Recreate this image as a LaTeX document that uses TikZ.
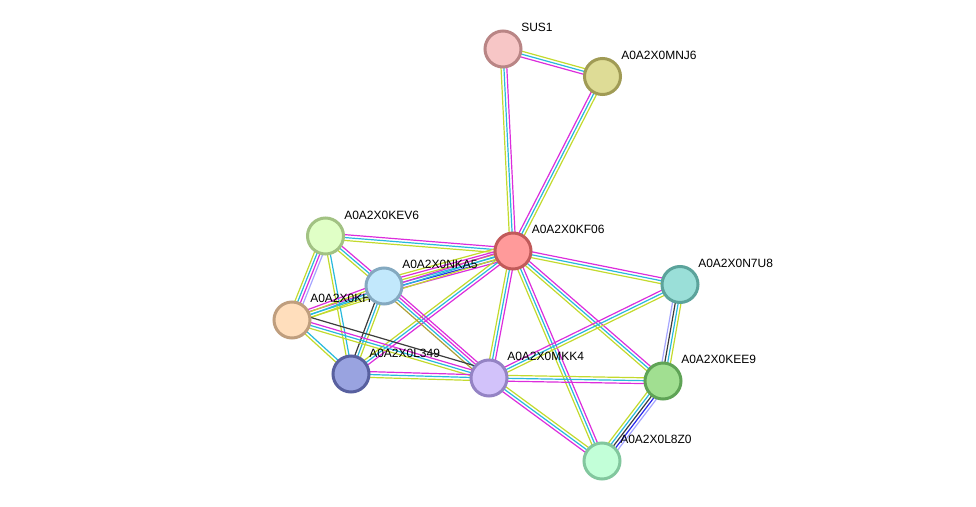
\documentclass[tikz,border=0pt]{standalone}
\usepackage{fontspec}
\setmainfont{Liberation Sans}
\usetikzlibrary{calc}
\pgfdeclarelayer{background}
\pgfsetlayers{background,main}
\definecolor{tm}{RGB}{195,218,45}
\definecolor{db}{RGB}{40,185,220}
\definecolor{ex}{RGB}{220,45,220}
\definecolor{co}{RGB}{60,60,60}
\definecolor{oc}{RGB}{40,40,235}
\definecolor{hm}{RGB}{165,165,255}
\definecolor{ol}{RGB}{175,160,55}
\tikzset{
  pnode/.style={circle,minimum size=27pt,inner sep=0pt,line width=2.25pt},
  lbl/.style={anchor=west,inner sep=0pt,font=\fontsize{9pt}{10pt}\selectfont},
  eline/.style={line width=0.9pt}
}
\newcommand\edg[3]{\foreach \cc/\oo in {#3}{\draw[eline,\cc] ($(#1)!\oo*1.45 pt!90:(#2)$) -- ($(#2)!\oo*1.45 pt!-90:(#1)$);}}
\begin{document}
\begin{tikzpicture}[x=0.75pt,y=-0.75pt]
\useasboundingbox (0,0) rectangle (976,507);
% labels
\node[lbl] (sus1l) at (521,27.5) {SUS1};
\node[lbl] (mnj6l) at (621,55) {A0A2X0MNJ6};
\node[lbl] (kf06l) at (531.5,229.5) {A0A2X0KF06};
\node[lbl] (kev6l) at (344,215) {A0A2X0KEV6};
\node[lbl] (nka5l) at (402,264.5) {A0A2X0NKA5};
\node[lbl] (khl) at (310,298.5) {A0A2X0KH};
\node[lbl] (l349l) at (369,353) {A0A2X0L349};
\node[lbl] (mkk4l) at (507,356.5) {A0A2X0MKK4};
\node[lbl] (n7u8l) at (698,263) {A0A2X0N7U8};
\node[lbl] (kee9l) at (681,359) {A0A2X0KEE9};
\node[lbl] (l8z0l) at (620,439.5) {A0A2X0L8Z0};
% nodes
\node[pnode,fill={rgb,255:red,247;green,198;blue,198},draw={rgb,255:red,185;green,133;blue,133}] (sus1) at (503,49) {};
\node[pnode,fill={rgb,255:red,222;green,220;blue,150},draw={rgb,255:red,160;green,155;blue,85}] (mnj6) at (602.5,76.5) {};
\node[pnode,fill={rgb,255:red,255;green,154;blue,154},draw={rgb,255:red,193;green,90;blue,90}] (kf06) at (513,251) {};
\node[pnode,fill={rgb,255:red,224;green,255;blue,198},draw={rgb,255:red,162;green,194;blue,131}] (kev6) at (325.5,236) {};
\node[pnode,fill={rgb,255:red,194;green,232;blue,252},draw={rgb,255:red,132;green,169;blue,192}] (nka5) at (384,286) {};
\node[pnode,fill={rgb,255:red,255;green,222;blue,188},draw={rgb,255:red,191;green,158;blue,126}] (kh) at (292,320) {};
\node[pnode,fill={rgb,255:red,153;green,163;blue,224},draw={rgb,255:red,88;green,96;blue,159}] (l349) at (351,374) {};
\node[pnode,fill={rgb,255:red,210;green,194;blue,250},draw={rgb,255:red,148;green,131;blue,196}] (mkk4) at (489,378) {};
\node[pnode,fill={rgb,255:red,154;green,223;blue,216},draw={rgb,255:red,91;green,163;blue,155}] (n7u8) at (680,284.5) {};
\node[pnode,fill={rgb,255:red,161;green,223;blue,145},draw={rgb,255:red,95;green,163;blue,86}] (kee9) at (663,381) {};
\node[pnode,fill={rgb,255:red,194;green,255;blue,216},draw={rgb,255:red,130;green,199;blue,158}] (l8z0) at (602,461) {};
% edges
\begin{pgfonlayer}{background}
\edg{sus1}{mnj6}{tm/1.5,db/0,ex/-1.5}
\edg{sus1}{kf06}{ex/1.5,db/0,tm/-1.5}
\edg{mnj6}{kf06}{ex/-1.5,db/0,tm/1.5}
\edg{kf06}{kev6}{ex/-1.5,db/0,tm/1.5}
\edg{kf06}{nka5}{tm/-3.5,ex/-2.1,tm/-0.7,db/0.7,oc/2.1,ex/3.5}
\edg{kf06}{kh}{ex/-1.5,db/0,tm/1.5}
\edg{kf06}{l349}{tm/-1.5,db/0,ex/1.5}
\edg{kf06}{mkk4}{tm/-1.5,db/0,ex/1.5}
\edg{kf06}{n7u8}{ex/1.5,db/0,tm/-1.5}
\edg{kf06}{kee9}{ex/1.5,db/0,tm/-1.5}
\edg{kf06}{l8z0}{tm/-1.5,db/0,ex/1.5}
\edg{kev6}{nka5}{ex/1.5,db/0,tm/-1.5}
\edg{kev6}{kh}{tm/-2.2,db/-0.75,ex/0.75,hm/2.2}
\edg{kev6}{l349}{tm/-0.75,db/0.75}
\edg{nka5}{kh}{ex/-2.2,tm/-0.75,db/0.75,tm/2.2}
\edg{nka5}{l349}{co/-1.5,db/0,tm/1.5}
\edg{nka5}{mkk4}{ol/-2.2,db/-0.75,ex/0.75,ex/2.2}
\edg{kh}{l349}{tm/-0.75,db/0.75}
\edg{kh}{mkk4}{co/4,ex/1.5,db/0,tm/-1.5}
\edg{l349}{mkk4}{ex/1.5,db/0,tm/-1.5}
\edg{mkk4}{n7u8}{ex/1.5,db/0,tm/-1.5}
\edg{mkk4}{kee9}{tm/1.5,db/0,ex/-1.5}
\edg{mkk4}{l8z0}{tm/1.5,db/0,ex/-1.5}
\edg{n7u8}{kee9}{hm/-2.2,co/-0.75,db/0.75,tm/2.2}
\edg{kee9}{l8z0}{tm/-3,db/-1.5,co/0,oc/1.5,hm/3}
\end{pgfonlayer}
\end{tikzpicture}
\end{document}
